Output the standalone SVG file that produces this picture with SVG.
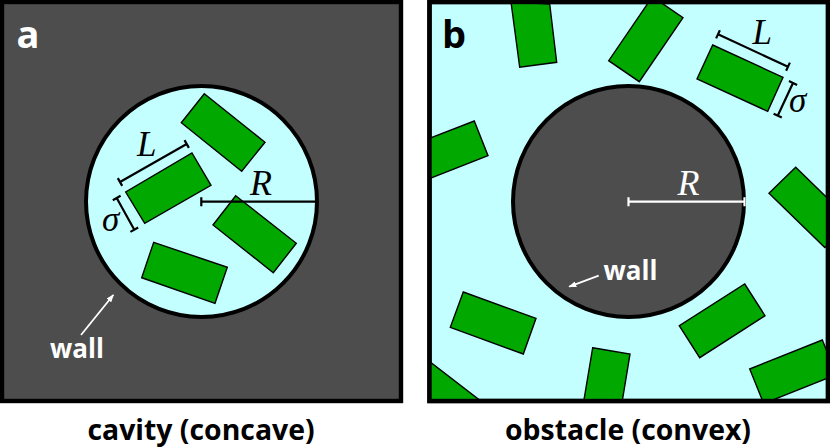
<svg xmlns="http://www.w3.org/2000/svg" width="830" height="448" viewBox="0 0 830 448">
<style>
.p{fill:#00a800;stroke:#000;stroke-width:1.4;stroke-linejoin:miter}
.bg{stroke:#000;stroke-width:4.4}
.d{fill:#4d4d4d}.c{fill:#c4ffff}
.w{fill:none;stroke:#000;stroke-width:4}
.k{fill:none;stroke:#000;stroke-width:2.2}
.kw{fill:none;stroke:#fff;stroke-width:2.2}
.s{font-family:"Open Sans","Noto Sans",sans-serif;font-weight:700}
.m{font-family:"Liberation Serif",serif;font-style:italic;font-size:35px}
</style>
<defs>
<clipPath id="cb"><rect x="431" y="4" width="395" height="395"/></clipPath>
<marker id="ah" markerWidth="8" markerHeight="6" refX="7" refY="3" orient="auto" markerUnits="userSpaceOnUse"><path d="M0 0L8 3L0 6Z" fill="#fff"/></marker>
</defs>
<g id="panel-a">
<rect class="bg d" x="2" y="2" width="399" height="399"/>
<circle class="c" cx="201.5" cy="201.5" r="115.5"/>
</g>
<g id="panel-a-rods">
<polygon class="p" points="204.3,93.7 265,142.3 241.7,171.3 181.3,122.7"/>
<polygon class="p" points="192,153 211,185.3 144.7,223.3 125.7,192"/>
<polygon class="p" points="235.7,195.7 296.3,243.3 273.3,272.7 213,225"/>
<polygon class="p" points="153.7,242.3 227.3,267.3 215,303.3 141.7,277.7"/>
</g>
<circle class="w" cx="201.5" cy="201.5" r="115.5"/>
<g id="panel-b">
<rect class="bg c" x="429.5" y="2" width="398.5" height="399"/>
</g>
<g id="panel-b-rods" clip-path="url(#cb)">
<polygon class="p" points="511,2 549.7,4 556.7,62.3 519.7,67.3"/>
<polygon class="p" points="652.4,-3.3 683,17.7 639.3,81.7 608.7,60.7"/>
<polygon class="p" points="712.7,45 783,77.3 767.7,111.3 697,79"/>
<polygon class="p" points="474.3,121 488,155.7 416,184 402,149"/>
<polygon class="p" points="795.7,167.3 851.5,221.5 824.8,247.5 769,193.3"/>
<polygon class="p" points="463.3,292 536,318.3 523.3,354 450.3,327.3"/>
<polygon class="p" points="592.7,347.7 630,354 617.5,430 580,423.7"/>
<polygon class="p" points="744.7,284 765,315.7 699.7,357.7 679.3,325.7"/>
<polygon class="p" points="749.7,369 822.3,340 836.3,374.6 763.7,403.6"/>
<polygon class="p" points="425,358 486,405 463,435 402,388"/>
</g>
<g id="obstacle">
<circle class="bg d" style="stroke-width:4" cx="628.5" cy="201.5" r="115.5"/>
</g>
<rect x="429.5" y="2" width="398.5" height="399" fill="none" stroke="#000" stroke-width="4.4"/>
<g id="connectors">
<path class="k" d="M120 182L186.7 144M117.8 178.1L122.2 185.9M184.5 140.1L188.9 147.9"/>
<path class="k" d="M116.7 198L134.3 229.7M112.8 200.2L120.6 195.8M130.4 231.9L138.2 227.5"/>
<path class="k" d="M201.3 201.7H316M201.3 197.2V206.2"/>
<path class="k" d="M718 34.3L788 66.7M719.9 30.2L716.1 38.4M789.9 62.6L786.1 70.8"/>
<path class="k" d="M793 83L777.7 115.7M788.9 81.1L797.1 84.9M773.6 113.8L781.8 117.6"/>
<path class="kw" d="M628.5 201.7H744.5M628.5 197.2V206.2M744.5 197.2V206.2"/>
<path class="kw" style="stroke-width:1.8" marker-end="url(#ah)" d="M81 335L113.3 295"/>
<path class="kw" style="stroke-width:1.8" marker-end="url(#ah)" d="M598.7 275.7L569.3 286.7"/>
</g>
<g id="labels">
<text class="s" x="16.5" y="48" font-size="38" fill="#fff">a</text>
<text class="s" x="442" y="48" font-size="38" fill="#000">b</text>
<text class="s" x="50" y="358" font-size="26" fill="#fff">wall</text>
<text class="s" x="603.5" y="279.7" font-size="26" fill="#fff">wall</text>
<text class="s" x="201" y="439.5" font-size="28.4" text-anchor="middle" fill="#000">cavity (concave)</text>
<text class="s" x="628" y="439.5" font-size="28.4" text-anchor="middle" fill="#000">obstacle (convex)</text>
<text class="m" x="137" y="155.5" fill="#000">L</text>
<text class="m" x="102" y="231" fill="#000">σ</text>
<text class="m" x="250" y="195" style="font-size:36px" fill="#000">R</text>
<text class="m" x="752.5" y="43.5" fill="#000">L</text>
<text class="m" x="789" y="112" fill="#000">σ</text>
<text class="m" x="677.5" y="195" style="font-size:36px" fill="#fff">R</text>
</g>
</svg>
